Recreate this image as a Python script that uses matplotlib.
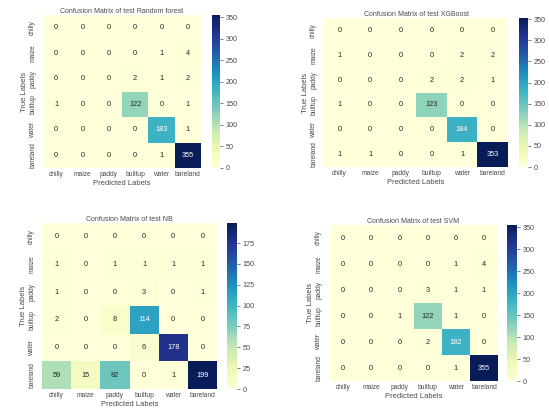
import numpy as np
import matplotlib
matplotlib.use("Agg")
import matplotlib.pyplot as plt
import seaborn as sns

plt.rcParams['font.family'] = ['Liberation Sans', 'DejaVu Sans']

labels = ["chilly", "maize", "paddy", "builtup", "water", "bareland"]

cm_rf = [[0, 0, 0, 0, 0, 0],
         [0, 0, 0, 0, 1, 4],
         [0, 0, 0, 2, 1, 2],
         [1, 0, 0, 122, 0, 1],
         [0, 0, 0, 0, 183, 1],
         [0, 0, 0, 0, 1, 355]]

cm_xgb = [[0, 0, 0, 0, 0, 0],
          [1, 0, 0, 0, 2, 2],
          [0, 0, 0, 2, 2, 1],
          [1, 0, 0, 123, 0, 0],
          [0, 0, 0, 0, 184, 0],
          [1, 1, 0, 0, 1, 353]]

cm_nb = [[0, 0, 0, 0, 0, 0],
         [1, 0, 1, 1, 1, 1],
         [1, 0, 0, 3, 0, 1],
         [2, 0, 8, 114, 0, 0],
         [0, 0, 0, 6, 178, 0],
         [59, 15, 82, 0, 1, 199]]

cm_svm = [[0, 0, 0, 0, 0, 0],
          [0, 0, 0, 0, 1, 4],
          [0, 0, 0, 3, 1, 1],
          [0, 0, 1, 122, 1, 0],
          [0, 0, 0, 2, 182, 0],
          [0, 0, 0, 0, 1, 355]]

titles = ["Confusion Matrix of test Random forest",
          "Confusion Matrix of test XGBoost",
          "Confusion Matrix of test NB",
          "Confusion Matrix of test SVM"]

W, H = 549, 408
fig = plt.figure(figsize=(W / 100, H / 100), dpi=100)


def px_axes(x0, y0, x1, y1):
    return fig.add_axes([x0 / W, 1 - y1 / H, (x1 - x0) / W, (y1 - y0) / H])


# (heatmap box, colorbar box) in pixels: x0, y0, x1, y1
boxes = [((43, 15, 201, 168), (212, 15, 220, 168)),
         ((324, 18, 508, 167), (519, 18, 528, 167)),
         ((42, 223, 217, 389), (227, 223, 237, 389)),
         ((329, 225, 498, 381), (507, 225, 517, 381))]

txt = '#4a4a4a'
for cm, title, (hb, cb) in zip([cm_rf, cm_xgb, cm_nb, cm_svm], titles, boxes):
    ax = px_axes(*hb)
    cax = px_axes(*cb)
    sns.heatmap(np.array(cm), annot=True, fmt="d", cmap="YlGnBu",
                xticklabels=labels, yticklabels=labels,
                ax=ax, cbar_ax=cax, annot_kws={"size": 5.3})
    ax.set_title(title, fontsize=5, color=txt, pad=1.5)
    ax.set_xlabel("Predicted Labels", fontsize=5.5, color=txt, labelpad=1)
    ax.set_ylabel("True Labels", fontsize=5.5, color=txt, labelpad=1)
    ax.tick_params(axis='x', length=0, labelsize=4.8, labelcolor=txt, pad=2.5)
    ax.tick_params(axis='y', length=0, labelsize=4.8, labelcolor=txt, pad=5)
    plt.setp(ax.get_yticklabels(), rotation=90, va='center')
    plt.setp(ax.get_xticklabels(), rotation=0)
    cax.tick_params(length=2, width=0.5, labelsize=5.2, labelcolor=txt, color=txt, pad=2)
    cbar = ax.collections[0].colorbar
    if cbar is not None:
        cbar.outline.set_visible(False)

fig.savefig("out.png", dpi=100, facecolor="white")
